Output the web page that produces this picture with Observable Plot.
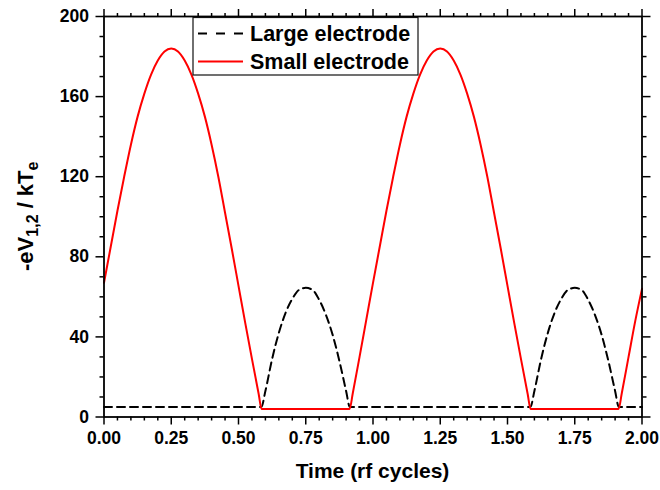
<!DOCTYPE html>
<html>
<head>
<meta charset="utf-8">
<script src="https://cdn.jsdelivr.net/npm/d3@7"></script>
<script src="https://cdn.jsdelivr.net/npm/@observablehq/plot@0.6"></script>
<style>
  html, body { margin: 0; padding: 0; background: #fff; }
  #chart { width: 660px; height: 490px; }
</style>
</head>
<body>
<div id="chart"></div>
<script>
// ---- data ----
const timeSmall = [0, 0.025, 0.05, 0.075, 0.1, 0.125, 0.15, 0.175, 0.2, 0.225, 0.25, 0.275, 0.3, 0.325, 0.35, 0.375, 0.4, 0.425, 0.45, 0.475, 0.5, 0.525, 0.55, 0.575, 0.586, 0.913, 0.925, 0.95, 0.975,
  1.0, 1.025, 1.05, 1.075, 1.1, 1.125, 1.15, 1.175, 1.2, 1.225, 1.25, 1.275, 1.3, 1.325, 1.35, 1.375, 1.4, 1.425, 1.45, 1.475, 1.5, 1.525, 1.55, 1.575, 1.586, 1.913, 1.925, 1.95, 1.975, 2.0];
const smallElectrode = [67, 85, 103, 120, 136, 150, 161.5, 171, 178, 182.5, 184, 182.5, 178, 171, 161.5, 150, 136, 120, 102, 84, 65.5, 47, 29, 11.5, 4, 4, 12, 30, 48.5,
  67, 85, 103, 120, 136, 150, 161.5, 171, 178, 182.5, 184, 182.5, 178, 171, 161.5, 150, 136, 120, 102, 84, 65.5, 47, 29, 11.5, 4, 4, 12, 30, 48, 64];

const timeLarge = [0, 0.585, 0.6, 0.625, 0.65, 0.675, 0.7, 0.725, 0.75, 0.775, 0.8, 0.825, 0.85, 0.875, 0.9, 0.914,
  1.585, 1.6, 1.625, 1.65, 1.675, 1.7, 1.725, 1.75, 1.775, 1.8, 1.825, 1.85, 1.875, 1.9, 1.914, 2.0];
const largeElectrode = [5, 5, 13, 29, 42, 52, 59, 63.5, 64.5, 63.5, 58.5, 51, 41, 28, 13, 5,
  5, 13, 29, 42, 52, 59, 63.5, 64.5, 63.5, 58.5, 51, 41, 28, 13, 5, 5];

const xMajorTicks = [0, 0.25, 0.5, 0.75, 1.0, 1.25, 1.5, 1.75, 2.0];
const xMinorTicks = [0.05, 0.1, 0.15, 0.2, 0.3, 0.35, 0.4, 0.45, 0.55, 0.6, 0.65, 0.7, 0.8, 0.85, 0.9, 0.95,
  1.05, 1.1, 1.15, 1.2, 1.3, 1.35, 1.4, 1.45, 1.55, 1.6, 1.65, 1.7, 1.8, 1.85, 1.9, 1.95];
const yMajorTicks = [0, 40, 80, 120, 160, 200];
const yMinorTicks = [10, 20, 30, 50, 60, 70, 90, 100, 110, 130, 140, 150, 170, 180, 190];

const seriesNames = ["Large electrode", "Small electrode"];
const xTitle = "Time (rf cycles)";

// ---- build tables ----
const small = timeSmall.map((t, i) => ({t, v: smallElectrode[i]}));
const large = timeLarge.map((t, i) => ({t, v: largeElectrode[i]}));

const FONT = "'Liberation Sans', Arial, Helvetica, sans-serif";
const W = 660, H = 490;
const mL = 103.5, mR = 18.5, mT = 16, mB = 73.5;

const plot = Plot.plot({
  width: W, height: H,
  marginLeft: mL, marginRight: mR, marginTop: mT, marginBottom: mB,
  style: {fontFamily: FONT, fontWeight: "bold", fontSize: "17.5px", color: "black", background: "white"},
  x: {domain: [0, 2], label: null},
  y: {domain: [0, 200], label: null},
  marks: [
    Plot.line(large, {x: "t", y: "v", stroke: "black", strokeWidth: 2, strokeDasharray: "8,5", curve: "monotone-x"}),
    Plot.line(small, {x: "t", y: "v", stroke: "#ff0000", strokeWidth: 2, curve: "monotone-x"}),
    Plot.frame({stroke: "black", strokeWidth: 1.8}),
    // bottom
    Plot.axisX({anchor: "bottom", ticks: xMajorTicks, tickSize: 8, tickPadding: 7, strokeWidth: 1.5, tickFormat: d3.format(".2f"), label: null}),
    Plot.axisX({anchor: "bottom", ticks: xMinorTicks, tickSize: 4, strokeWidth: 1.5, fill: "none", label: null}),
    // top
    Plot.axisX({anchor: "top", ticks: xMajorTicks, tickSize: 8, strokeWidth: 1.5, fill: "none", label: null}),
    Plot.axisX({anchor: "top", ticks: xMinorTicks, tickSize: 4, strokeWidth: 1.5, fill: "none", label: null}),
    // left
    Plot.axisY({anchor: "left", ticks: yMajorTicks, tickSize: 8, tickPadding: 7, strokeWidth: 1.5, tickFormat: d => String(d), label: null}),
    Plot.axisY({anchor: "left", ticks: yMinorTicks, tickSize: 4, strokeWidth: 1.5, fill: "none", label: null}),
    // right
    Plot.axisY({anchor: "right", ticks: yMajorTicks, tickSize: 8, strokeWidth: 1.5, fill: "none", label: null}),
    Plot.axisY({anchor: "right", ticks: yMinorTicks, tickSize: 4, strokeWidth: 1.5, fill: "none", label: null})
  ]
});

document.getElementById("chart").appendChild(plot);

// ---- titles and legend (pixel-space decorations) ----
const svg = d3.select(plot);

svg.append("text")
  .attr("x", (mL + (W - mR)) / 2).attr("y", 478)
  .attr("text-anchor", "middle")
  .style("font-family", FONT).style("font-weight", "bold").style("font-size", "21px")
  .attr("fill", "black")
  .text(xTitle);

const yt = svg.append("text")
  .attr("transform", `translate(33,${(mT + (H - mB)) / 2}) rotate(-90)`)
  .attr("text-anchor", "middle")
  .style("font-family", FONT).style("font-weight", "bold").style("font-size", "22px")
  .attr("fill", "black");
yt.append("tspan").text("-eV");
yt.append("tspan").attr("dy", 5).style("font-size", "16px").text("1,2");
yt.append("tspan").attr("dy", -5).text(" / kT");
yt.append("tspan").attr("dy", 5).style("font-size", "16px").text("e");

const lg = svg.append("g").attr("text-anchor", "start");
lg.append("rect")
  .attr("x", 193).attr("y", 17.5).attr("width", 225).attr("height", 57.5)
  .attr("fill", "white").attr("stroke", "#111").attr("stroke-width", 1.2);
lg.append("line").attr("x1", 198).attr("x2", 243).attr("y1", 33.5).attr("y2", 33.5)
  .attr("stroke", "black").attr("stroke-width", 2).attr("stroke-dasharray", "9,9");
lg.append("line").attr("x1", 198).attr("x2", 243).attr("y1", 61.5).attr("y2", 61.5)
  .attr("stroke", "#ff0000").attr("stroke-width", 2);
seriesNames.forEach((name, i) => {
  lg.append("text")
    .attr("x", 250).attr("y", 33.5 + i * 28)
    .attr("dy", "0.36em")
    .attr("text-anchor", "start")
    .style("font-family", FONT).style("font-weight", "bold").style("font-size", "21.5px")
    .attr("fill", "black")
    .text(name);
});
</script>
</body>
</html>
